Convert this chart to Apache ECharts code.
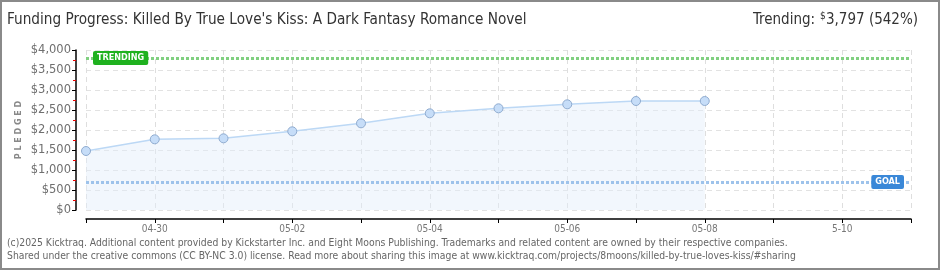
<!DOCTYPE html>
<html><head><meta charset="utf-8">
<script src="https://cdn.jsdelivr.net/npm/echarts@6/dist/echarts.min.js"></script>
<style>html,body{margin:0;padding:0;background:#fff}#c{width:940px;height:270px}</style>
</head><body><div id="c"></div>
<script>
var categories = ['04-29','04-30','05-01','05-02','05-03','05-04','05-05','05-06','05-07','05-08','05-09','05-10','05-11'];
var tickLabels = ['', '04-30', '', '05-02', '', '05-04', '', '05-06', '', '05-08', '', '5-10', ''];
var pledged = [1475, 1767, 1792, 1967, 2167, 2417, 2542, 2642, 2725, 2725];
var trendingValue = 3797;
var goalValue = 700;
var yTicks = [0, 500, 1000, 1500, 2000, 2500, 3000, 3500, 4000];

var chart = echarts.init(document.getElementById('c'), null, {renderer:'canvas'});
function money(v){ return '$' + v.toLocaleString('en-US'); }
var narrow = '"Liberation Sans Narrow", "DejaVu Sans Condensed", sans-serif';
chart.setOption({
  animation: false,
  grid: {left: 86, right: 29, top: 50, bottom: 60, containLabel: false},
  graphic: [
    {type:'rect', shape:{x:1,y:1,width:938,height:268}, style:{fill:'none', stroke:'#8a8a8a', lineWidth:2}, z:100},
    {type:'text', left:7, top:13, style:{text:'Funding Progress: Killed By True Love\'s Kiss: A Dark Fantasy Romance Novel', font:'15.2px ' + narrow, fill:'#333'}},
    {type:'text', left:753, top:13, style:{text:'Trending:', font:'15px ' + narrow, fill:'#333'}},
    {type:'text', left:820, top:11, style:{text:'$', font:'10px ' + narrow, fill:'#333'}},
    {type:'text', left:826, top:13, style:{text:'3,797 (542%)', font:'15px ' + narrow, fill:'#333'}},
    {type:'text', left:7, top:238, style:{text:'(c)2025 Kicktraq. Additional content provided by Kickstarter Inc. and Eight Moons Publishing. Trademarks and related content are owned by their respective companies.', font:'10.3px "DejaVu Sans Condensed", sans-serif', fill:'#666'}},
    {type:'text', left:7, top:251, style:{text:'Shared under the creative commons (CC BY-NC 3.0) license. Read more about sharing this image at www.kicktraq.com/projects/8moons/killed-by-true-loves-kiss/#sharing', font:'10.3px "DejaVu Sans Condensed", sans-serif', fill:'#666'}},
    {type:'text', x:19, y:130, rotation:Math.PI/2, style:{text:'P L E D G E D', font:'bold 8px "DejaVu Sans", sans-serif', fill:'#888', align:'center', verticalAlign:'middle'}}
  ],
  xAxis: {
    type: 'category', data: categories, boundaryGap: false, offset: 9,
    axisLine: {onZero: false, lineStyle: {color: '#000', width: 1.5}},
    axisTick: {show: true, length: 4, interval: 0, lineStyle: {color: '#000'}},
    axisLabel: {interval: 0, color: '#777', fontSize: 10, fontFamily: '"DejaVu Sans Condensed", sans-serif', margin: 5,
      formatter: function(v, i){ return tickLabels[i]; }},
    splitLine: {show: true, interval: 0, lineStyle: {color: '#dedede', type: [5,4]}}
  },
  yAxis: {
    type: 'value', min: 0, max: 4000, interval: 500, offset: 10,
    axisLine: {show: true, onZero: false, lineStyle: {color: '#000', width: 1.5}},
    axisTick: {show: true, length: 4, lineStyle: {color: '#000'}},
    minorTick: {show: true, splitNumber: 2, length: 3, lineStyle: {color: '#e00'}},
    axisLabel: {color: '#6f6f6f', fontSize: 11.5, fontFamily: '"DejaVu Sans", sans-serif', margin: 5,
      formatter: function(v){ return yTicks.indexOf(v) >= 0 ? money(v) : ''; }},
    splitLine: {show: true, lineStyle: {color: '#e2e2e2', type: [5,4]}}
  },
  series: [{
    type: 'line', data: pledged,
    symbol: 'circle', symbolSize: 9,
    itemStyle: {color: '#c6ddf8', borderColor: '#8fabcf', borderWidth: 1},
    lineStyle: {color: '#bcd8f5', width: 1.5},
    areaStyle: {color: 'rgba(226,237,251,0.65)'},
    markLine: {
      silent: true, symbol: ['none','none'],
      data: [
        {yAxis: trendingValue, lineStyle: {color: '#80d080', width: 3, type: [3,2]},
         label: {show: true, position: 'insideStartTop', formatter: 'TRENDING', distance: [7, 0], verticalAlign: 'middle',
           backgroundColor: '#1fb11f', color: '#fff', fontSize: 9, fontWeight: 'bold', fontFamily: '"DejaVu Sans Condensed", sans-serif',
           padding: [3,4,2,4], borderRadius: 2}},
        {yAxis: goalValue, lineStyle: {color: '#9ec3eb', width: 3, type: [3,2]},
         label: {show: true, position: 'insideEndTop', formatter: 'GOAL', distance: [7, 0], verticalAlign: 'middle',
           backgroundColor: '#3a88d8', color: '#fff', fontSize: 9, fontWeight: 'bold', fontFamily: '"DejaVu Sans Condensed", sans-serif',
           padding: [3,4,2,4], borderRadius: 2}}
      ]
    }
  }]
});
</script></body></html>
